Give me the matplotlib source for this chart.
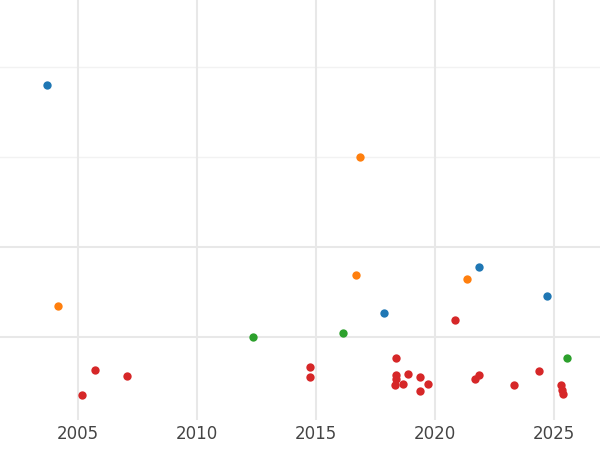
import matplotlib.pyplot as plt

blue_x = [2003.70, 2021.85, 2017.86, 2024.71]
blue_y = [3.80, 1.78, 1.27, 1.46]
orange_x = [2004.16, 2016.85, 2016.68, 2021.34]
orange_y = [1.34, 3.00, 1.69, 1.64]
green_x = [2012.35, 2016.13, 2025.55]
green_y = [1.00, 1.04, 0.77]
red_x = [2005.17, 2005.71, 2007.06, 2014.75, 2014.75, 2018.36, 2018.36, 2018.36,
         2018.32, 2018.66, 2018.87, 2019.37, 2019.37, 2019.71, 2020.84, 2021.68,
         2021.85, 2023.32, 2024.37, 2025.29, 2025.34, 2025.38]
red_y = [0.36, 0.63, 0.57, 0.67, 0.56, 0.77, 0.58, 0.53,
         0.47, 0.48, 0.59, 0.56, 0.40, 0.48, 1.19, 0.53,
         0.58, 0.47, 0.62, 0.47, 0.41, 0.37]
strong_grid_y = [1, 2]
faint_grid_y = [3, 4]

fig = plt.figure(figsize=(6, 4.5), dpi=100)
ax = fig.add_axes([0, 0.067, 1, 0.933])

for xs, ys, c in [(blue_x, blue_y, '#1f77b4'), (orange_x, orange_y, '#ff7f0e'),
                  (green_x, green_y, '#2ca02c'), (red_x, red_y, '#d62728')]:
    ax.scatter(xs, ys, s=36, color=c, zorder=3, linewidths=0)

ax.set_xlim(2001.72, 2026.93)
ax.set_ylim(0.08, 4.74)
ax.set_xticks([2005, 2010, 2015, 2020, 2025])
ax.set_yticks([])
ax.grid(True, axis='x', color='#e8e8e8', linewidth=1.5)
for y in strong_grid_y:
    ax.axhline(y, color='#e8e8e8', linewidth=1.5, zorder=0)
for y in faint_grid_y:
    ax.axhline(y, color='#f2f2f2', linewidth=1.0, zorder=0)
ax.tick_params(length=0, labelsize=12, labelcolor='#444444')
for s in ax.spines.values():
    s.set_visible(False)

fig.savefig('out.png', dpi=100)
